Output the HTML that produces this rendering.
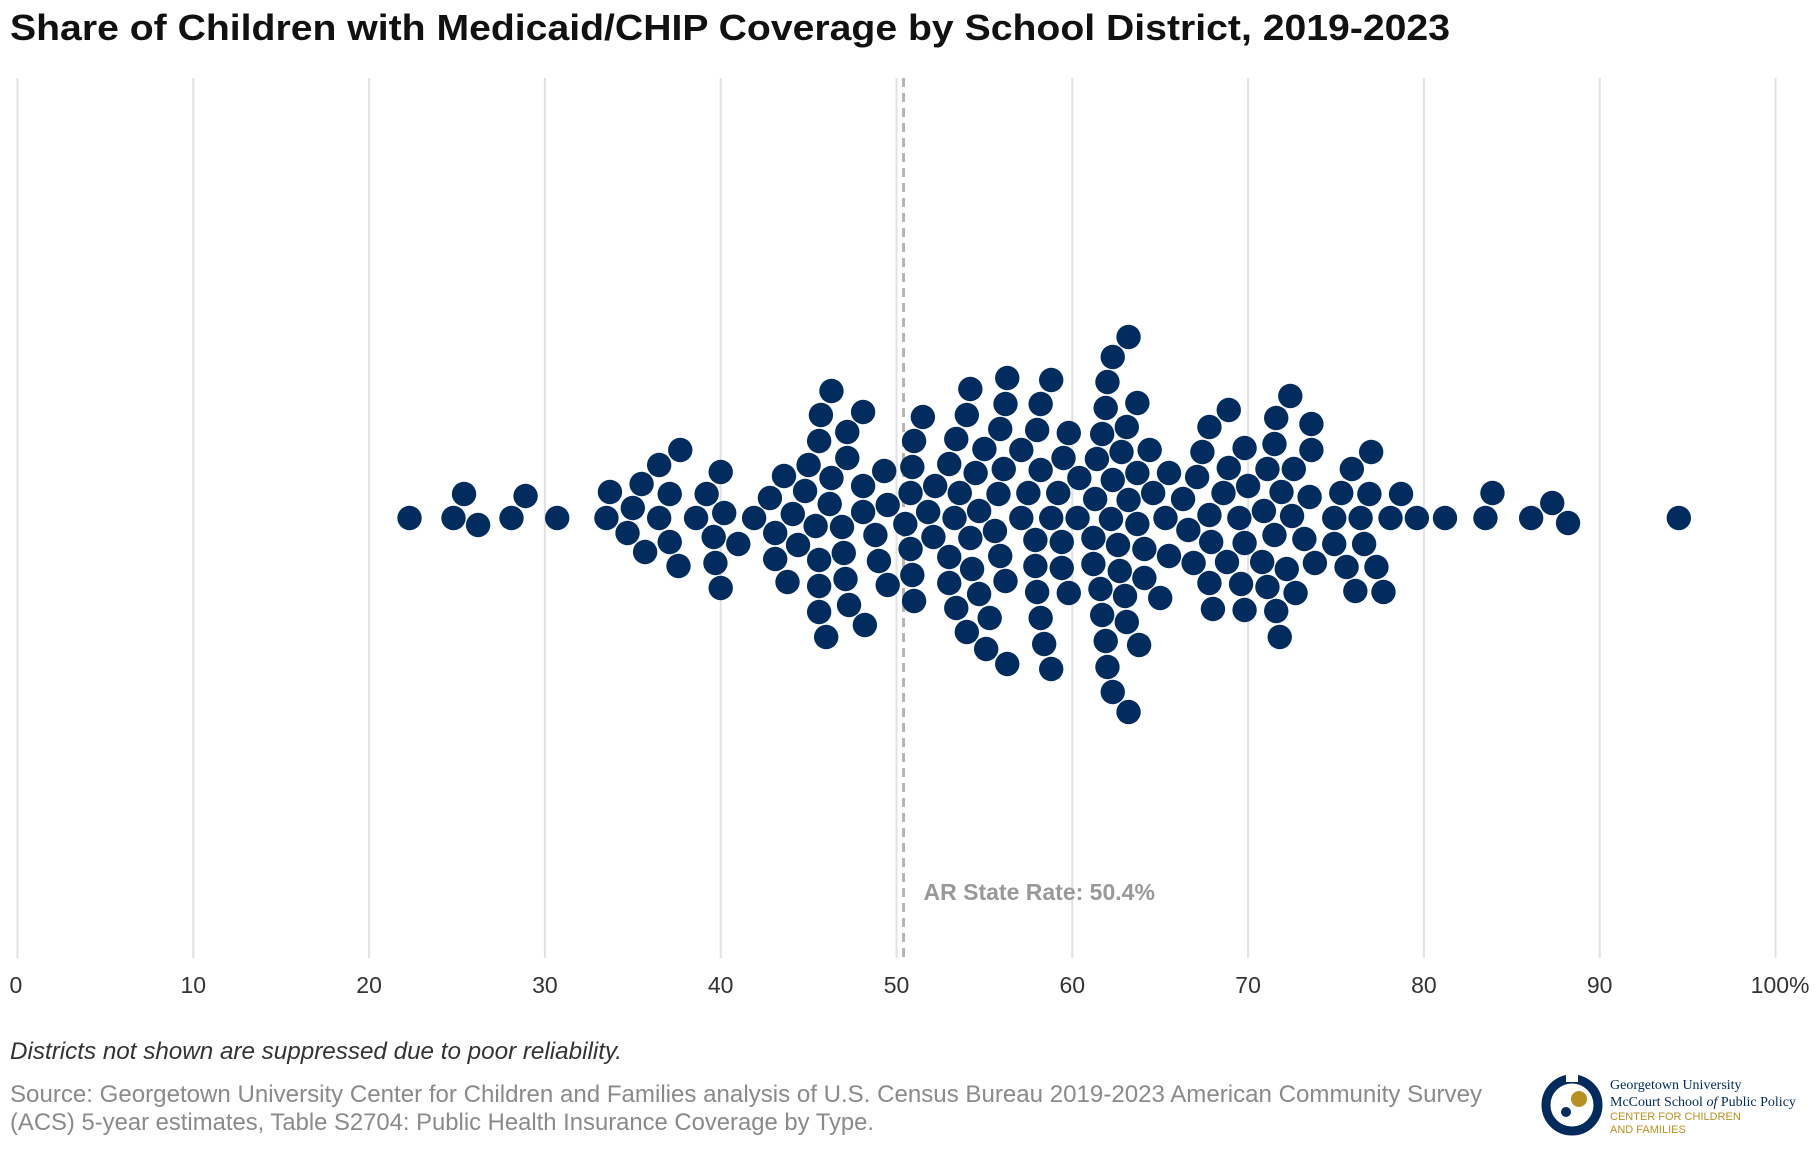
<!DOCTYPE html>
<html><head><meta charset="utf-8">
<style>
html,body{margin:0;padding:0;background:#fff;}
body{width:1820px;height:1154px;overflow:hidden;font-family:"Liberation Sans",sans-serif;}
svg{display:block;}
</style></head>
<body>
<svg id="chart" width="1820" height="1154" viewBox="0 0 1820 1154">
  <text x="10" y="40" font-size="36" font-weight="bold" fill="#111" textLength="1440" lengthAdjust="spacingAndGlyphs">Share of Children with Medicaid/CHIP Coverage by School District, 2019-2023</text>
  <g id="grid"></g>
  <g id="ticks"></g>
  <g id="refline"></g>
  <g id="dots"></g>
  <text x="10" y="1059" font-size="24" font-style="italic" fill="#333" textLength="612" lengthAdjust="spacingAndGlyphs">Districts not shown are suppressed due to poor reliability.</text>
  <text x="10" y="1102" font-size="24" fill="#8a8a8a" textLength="1472" lengthAdjust="spacingAndGlyphs">Source: Georgetown University Center for Children and Families analysis of U.S. Census Bureau 2019-2023 American Community Survey</text>
  <text x="10" y="1130" font-size="24" fill="#8a8a8a" textLength="864" lengthAdjust="spacingAndGlyphs">(ACS) 5-year estimates, Table S2704: Public Health Insurance Coverage by Type.</text>
  <g>
    <circle cx="1572" cy="1105" r="26" fill="none" stroke="#002b5c" stroke-width="9"/>
    <rect x="1566" y="1070" width="12" height="12" fill="#fff"/>
    <circle cx="1579" cy="1099" r="8" fill="#b8901f"/>
    <circle cx="1566" cy="1112" r="5" fill="#002b5c"/>
    <text x="1610" y="1089" font-size="14" font-family="Liberation Serif, serif" fill="#002b5c">Georgetown University</text>
    <text x="1610" y="1106" font-size="14" font-family="Liberation Serif, serif" fill="#002b5c">McCourt School <tspan font-style="italic">of</tspan> Public Policy</text>
    <text x="1610" y="1120" font-size="11" fill="#b8901f">CENTER FOR CHILDREN</text>
    <text x="1610" y="1133" font-size="11" fill="#b8901f">AND FAMILIES</text>
  </g>
</svg>
<script>
const tickValues = [0,10,20,30,40,50,60,70,80,90,100];
const tickLabels = ["0","10","20","30","40","50","60","70","80","90","100%"];
const stateRate = 50.4;
const stateLabel = "AR State Rate: 50.4%";
const districtValues = [
22.3,24.8,25.4,26.2,28.1,28.9,30.7,
33.5,33.7,34.7,35.0,35.5,36.5,36.5,37.1,37.1,35.7,37.6,37.7,
38.6,39.2,39.6,39.7,40.0,40.0,40.2,41.0,
41.9,42.8,43.1,43.1,43.6,43.8,44.1,44.4,
44.8,45.0,45.4,45.6,45.6,45.6,45.6,45.7,46.0,46.2,46.3,46.3,
46.9,47.0,47.1,47.2,47.2,47.3,48.1,48.1,48.1,48.2,48.8,49.0,49.3,49.5,49.5,50.5,
50.8,50.8,50.9,50.9,51.0,51.0,51.5,51.8,52.1,52.2,
53.0,53.0,53.0,53.3,53.4,53.4,53.6,54.0,54.0,54.2,54.2,
54.3,54.5,54.7,54.7,55.0,55.1,55.3,55.6,55.8,55.9,55.9,56.1,56.2,56.2,56.3,56.3,
57.1,57.1,57.5,57.9,57.9,58.0,58.0,58.2,58.2,58.2,58.4,58.8,58.8,58.8,59.2,59.4,59.4,59.5,59.8,59.8,
60.3,60.4,
61.2,61.2,61.3,61.4,61.6,61.7,61.7,61.9,61.9,62.0,62.0,62.2,62.3,62.3,62.3,
62.6,62.7,62.8,63.0,63.1,63.1,63.2,63.2,63.2,63.7,63.7,63.7,63.8,
64.1,64.1,64.4,64.6,65.0,65.3,65.5,65.5,
66.3,66.6,66.9,67.1,67.4,67.8,67.8,67.8,67.9,68.0,
68.6,68.8,68.9,68.9,69.5,69.6,69.8,69.8,69.8,70.0,
70.8,70.9,71.1,71.1,71.5,71.5,71.6,71.6,71.8,71.9,72.2,72.4,72.5,72.6,72.7,73.2,73.5,73.6,73.6,73.8,
74.9,74.9,75.3,75.6,75.9,76.1,76.4,76.6,76.9,77.0,77.3,77.7,
78.1,78.7,79.6,81.2,83.5,83.9,86.1,87.3,88.2,94.5
];

const NS = "http://www.w3.org/2000/svg";
const X0 = 17.5, X1 = 1775.5, TOP = 78, BOT = 958, BASE = 518, R = 12.2, GAP = 25.5;
function xScale(v){ return X0 + (X1 - X0) * v / 100; }
function mk(tag, attrs, parent){ const e = document.createElementNS(NS, tag); for (const k in attrs) e.setAttribute(k, attrs[k]); parent.appendChild(e); return e; }

const grid = document.getElementById('grid');
const ticks = document.getElementById('ticks');
tickValues.forEach((t, i) => {
  const gl = mk('line', {x1: xScale(t), x2: xScale(t), y1: TOP, y2: BOT, stroke: '#e2e2e2', 'stroke-width': 2}, grid);
  
  
  const anchor = i === 0 ? 'start' : (i === tickValues.length - 1 ? 'end' : 'middle');
  const tx = i === 0 ? xScale(t) - 8 : (i === tickValues.length - 1 ? xScale(t) + 34 : xScale(t));
  const lab = mk('text', {x: tx, y: 993, 'font-size': 23, fill: '#333', 'text-anchor': anchor}, ticks);
  lab.textContent = tickLabels[i];
  
  
});

const ref = document.getElementById('refline');
const rl = mk('line', {x1: xScale(stateRate), x2: xScale(stateRate), y1: TOP, y2: BOT, stroke: '#b5b5b5', 'stroke-width': 3, 'stroke-dasharray': '9 6'}, ref);


const rt = mk('text', {x: xScale(stateRate) + 20, y: 900, 'font-size': 23, 'font-weight': 'bold', fill: '#999'}, ref);
rt.textContent = stateLabel;



// beeswarm layout
const dotsG = document.getElementById('dots');
const sorted = districtValues.map((v, i) => ({v, i})).sort((a, b) => a.v - b.v);
const placed = [];
sorted.forEach(d => {
  const x = xScale(d.v);
  let y = 0;
  for (let k = 0; k < 2000; k++) {
    const off = (k % 2 === 0 ? 1 : -1) * Math.ceil(k / 2);
    let ok = true;
    for (const p of placed) {
      const dx = p.x - x;
      if (Math.abs(dx) >= GAP) continue;
      const dy = p.y - off;
      if (dx * dx + dy * dy < GAP * GAP) { ok = false; break; }
    }
    if (ok) { y = off; break; }
  }
  placed.push({x, y});
  const c = mk('circle', {cx: x, cy: BASE + y, r: R, fill: '#022c5e'}, dotsG);
  
  
});
</script>
</body></html>
